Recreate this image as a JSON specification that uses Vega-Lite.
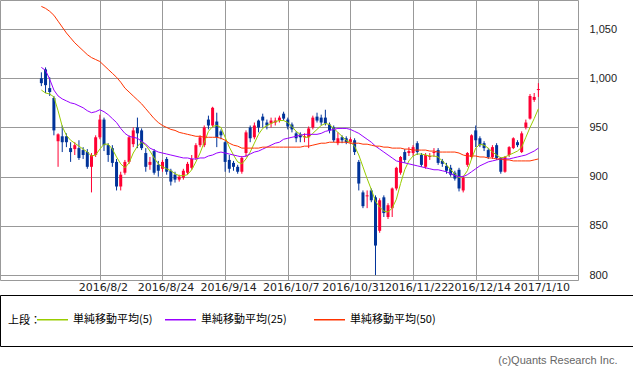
{
"$schema":"https://vega.github.io/schema/vega-lite/v6.json",
"width":578,"height":280,
"autosize":{"type":"none"},
"padding":{"left":0,"top":0,"right":55,"bottom":91},
"background":"white",
"title":{"text":"(c)Quants Research Inc.","orient":"bottom","anchor":"end","frame":"bounds","font":"Liberation Sans","fontSize":11,"fontWeight":"normal","color":"#666666","offset":8,"dx":-17},
"data":{"values":[
{"i":0,"date":"2016/7/12","open":1000,"high":1006,"low":992,"close":995,"ma5":988,"ma25":1011,"ma50":1073},
{"i":1,"date":"2016/7/13","open":1009,"high":1011,"low":985,"close":993,"ma5":985,"ma25":1008,"ma50":1071},
{"i":2,"date":"2016/7/14","open":990,"high":1001,"low":982,"close":986,"ma5":984,"ma25":999,"ma50":1068},
{"i":3,"date":"2016/7/15","open":980,"high":982,"low":942,"close":947,"ma5":981,"ma25":988,"ma50":1064},
{"i":4,"date":"2016/7/19","open":936,"high":944,"low":910,"close":943,"ma5":967,"ma25":982,"ma50":1058},
{"i":5,"date":"2016/7/20","open":941,"high":952,"low":925,"close":935,"ma5":951,"ma25":979,"ma50":1052},
{"i":6,"date":"2016/7/21","open":941,"high":944,"low":930,"close":935,"ma5":942,"ma25":977,"ma50":1046},
{"i":7,"date":"2016/7/22","open":929,"high":935,"low":915,"close":925,"ma5":937,"ma25":975,"ma50":1041},
{"i":8,"date":"2016/7/25","open":928,"high":935,"low":922,"close":932,"ma5":934,"ma25":974,"ma50":1036},
{"i":9,"date":"2016/7/26","open":929,"high":937,"low":917,"close":919,"ma5":931,"ma25":972,"ma50":1032},
{"i":10,"date":"2016/7/27","open":927,"high":930,"low":918,"close":922,"ma5":928,"ma25":970,"ma50":1028},
{"i":11,"date":"2016/7/28","open":925,"high":928,"low":908,"close":910,"ma5":925,"ma25":967,"ma50":1024},
{"i":12,"date":"2016/7/29","open":910,"high":924,"low":884,"close":922,"ma5":921,"ma25":965,"ma50":1021},
{"i":13,"date":"2016/8/1","open":922,"high":942,"low":920,"close":940,"ma5":922,"ma25":966,"ma50":1019},
{"i":14,"date":"2016/8/2","open":940,"high":963,"low":938,"close":958,"ma5":928,"ma25":968,"ma50":1017},
{"i":15,"date":"2016/8/3","open":958,"high":960,"low":926,"close":932,"ma5":933,"ma25":966,"ma50":1013},
{"i":16,"date":"2016/8/4","open":932,"high":934,"low":915,"close":922,"ma5":933,"ma25":963,"ma50":1009},
{"i":17,"date":"2016/8/5","open":929,"high":932,"low":910,"close":914,"ma5":928,"ma25":959,"ma50":1005},
{"i":18,"date":"2016/8/8","open":915,"high":918,"low":886,"close":890,"ma5":920,"ma25":955,"ma50":1001},
{"i":19,"date":"2016/8/9","open":890,"high":905,"low":886,"close":902,"ma5":913,"ma25":949,"ma50":996},
{"i":20,"date":"2016/8/10","open":904,"high":917,"low":902,"close":915,"ma5":909,"ma25":944,"ma50":990},
{"i":21,"date":"2016/8/12","open":915,"high":942,"low":913,"close":940,"ma5":914,"ma25":941,"ma50":986},
{"i":22,"date":"2016/8/15","open":933,"high":950,"low":930,"close":947,"ma5":924,"ma25":940,"ma50":982},
{"i":23,"date":"2016/8/16","open":950,"high":960,"low":929,"close":944,"ma5":931,"ma25":939,"ma50":978},
{"i":24,"date":"2016/8/17","open":947,"high":949,"low":927,"close":929,"ma5":935,"ma25":936,"ma50":974},
{"i":25,"date":"2016/8/18","open":924,"high":929,"low":905,"close":910,"ma5":932,"ma25":933,"ma50":969},
{"i":26,"date":"2016/8/19","open":912,"high":920,"low":907,"close":915,"ma5":926,"ma25":929,"ma50":964},
{"i":27,"date":"2016/8/22","open":926,"high":928,"low":902,"close":904,"ma5":919,"ma25":927,"ma50":959},
{"i":28,"date":"2016/8/23","open":912,"high":916,"low":900,"close":906,"ma5":913,"ma25":925,"ma50":955},
{"i":29,"date":"2016/8/24","open":908,"high":917,"low":905,"close":915,"ma5":910,"ma25":924,"ma50":952},
{"i":30,"date":"2016/8/25","open":918,"high":920,"low":902,"close":905,"ma5":908,"ma25":923,"ma50":950},
{"i":31,"date":"2016/8/26","open":906,"high":908,"low":891,"close":895,"ma5":906,"ma25":922,"ma50":948},
{"i":32,"date":"2016/8/29","open":902,"high":905,"low":894,"close":897,"ma5":903,"ma25":921,"ma50":947},
{"i":33,"date":"2016/8/30","open":897,"high":902,"low":895,"close":900,"ma5":901,"ma25":920,"ma50":945},
{"i":34,"date":"2016/8/31","open":899,"high":908,"low":897,"close":906,"ma5":901,"ma25":919,"ma50":944},
{"i":35,"date":"2016/9/1","open":904,"high":915,"low":902,"close":913,"ma5":902,"ma25":919,"ma50":943},
{"i":36,"date":"2016/9/2","open":909,"high":922,"low":907,"close":918,"ma5":907,"ma25":918,"ma50":942},
{"i":37,"date":"2016/9/5","open":919,"high":934,"low":917,"close":932,"ma5":915,"ma25":918,"ma50":941},
{"i":38,"date":"2016/9/6","open":932,"high":942,"low":930,"close":940,"ma5":924,"ma25":919,"ma50":941},
{"i":39,"date":"2016/9/7","open":932,"high":952,"low":930,"close":950,"ma5":935,"ma25":919,"ma50":940},
{"i":40,"date":"2016/9/8","open":958,"high":962,"low":948,"close":952,"ma5":946,"ma25":921,"ma50":940},
{"i":41,"date":"2016/9/9","open":952,"high":971,"low":950,"close":970,"ma5":951,"ma25":922,"ma50":940},
{"i":42,"date":"2016/9/12","open":956,"high":965,"low":930,"close":940,"ma5":952,"ma25":924,"ma50":940},
{"i":43,"date":"2016/9/13","open":946,"high":948,"low":938,"close":942,"ma5":950,"ma25":925,"ma50":939},
{"i":44,"date":"2016/9/14","open":935,"high":936,"low":905,"close":915,"ma5":940,"ma25":924,"ma50":937},
{"i":45,"date":"2016/9/15","open":917,"high":922,"low":904,"close":908,"ma5":930,"ma25":923,"ma50":934},
{"i":46,"date":"2016/9/16","open":914,"high":916,"low":906,"close":910,"ma5":922,"ma25":922,"ma50":932},
{"i":47,"date":"2016/9/20","open":910,"high":912,"low":903,"close":905,"ma5":915,"ma25":921,"ma50":931},
{"i":48,"date":"2016/9/21","open":905,"high":921,"low":903,"close":919,"ma5":913,"ma25":920,"ma50":929},
{"i":49,"date":"2016/9/23","open":924,"high":947,"low":920,"close":945,"ma5":918,"ma25":921,"ma50":929},
{"i":50,"date":"2016/9/26","open":950,"high":952,"low":935,"close":939,"ma5":925,"ma25":923,"ma50":929},
{"i":51,"date":"2016/9/27","open":940,"high":955,"low":938,"close":952,"ma5":934,"ma25":925,"ma50":929},
{"i":52,"date":"2016/9/28","open":957,"high":958,"low":945,"close":950,"ma5":943,"ma25":926,"ma50":929},
{"i":53,"date":"2016/9/29","open":961,"high":964,"low":950,"close":957,"ma5":949,"ma25":928,"ma50":930},
{"i":54,"date":"2016/9/30","open":955,"high":958,"low":948,"close":952,"ma5":952,"ma25":930,"ma50":930},
{"i":55,"date":"2016/10/3","open":954,"high":960,"low":950,"close":957,"ma5":954,"ma25":932,"ma50":930},
{"i":56,"date":"2016/10/4","open":955,"high":960,"low":952,"close":957,"ma5":956,"ma25":934,"ma50":930},
{"i":57,"date":"2016/10/5","open":957,"high":962,"low":955,"close":960,"ma5":957,"ma25":935,"ma50":930},
{"i":58,"date":"2016/10/6","open":964,"high":966,"low":957,"close":959,"ma5":957,"ma25":938,"ma50":930},
{"i":59,"date":"2016/10/7","open":958,"high":960,"low":948,"close":951,"ma5":955,"ma25":939,"ma50":930},
{"i":60,"date":"2016/10/11","open":953,"high":955,"low":945,"close":948,"ma5":951,"ma25":940,"ma50":930},
{"i":61,"date":"2016/10/12","open":944,"high":946,"low":935,"close":939,"ma5":946,"ma25":941,"ma50":930},
{"i":62,"date":"2016/10/13","open":943,"high":945,"low":935,"close":940,"ma5":943,"ma25":942,"ma50":930},
{"i":63,"date":"2016/10/14","open":940,"high":944,"low":935,"close":941,"ma5":940,"ma25":943,"ma50":931},
{"i":64,"date":"2016/10/17","open":940,"high":951,"low":929,"close":949,"ma5":940,"ma25":943,"ma50":931},
{"i":65,"date":"2016/10/18","open":950,"high":962,"low":948,"close":960,"ma5":944,"ma25":943,"ma50":932},
{"i":66,"date":"2016/10/19","open":961,"high":965,"low":955,"close":957,"ma5":948,"ma25":943,"ma50":933},
{"i":67,"date":"2016/10/20","open":960,"high":963,"low":952,"close":955,"ma5":952,"ma25":944,"ma50":934},
{"i":68,"date":"2016/10/21","open":960,"high":968,"low":952,"close":954,"ma5":954,"ma25":946,"ma50":934},
{"i":69,"date":"2016/10/24","open":953,"high":955,"low":944,"close":947,"ma5":953,"ma25":947,"ma50":935},
{"i":70,"date":"2016/10/25","open":950,"high":952,"low":935,"close":937,"ma5":949,"ma25":948,"ma50":935},
{"i":71,"date":"2016/10/26","open":934,"high":945,"low":932,"close":939,"ma5":945,"ma25":949,"ma50":935},
{"i":72,"date":"2016/10/27","open":940,"high":942,"low":934,"close":937,"ma5":941,"ma25":949,"ma50":935},
{"i":73,"date":"2016/10/28","open":939,"high":941,"low":933,"close":935,"ma5":937,"ma25":949,"ma50":935},
{"i":74,"date":"2016/10/31","open":935,"high":940,"low":933,"close":938,"ma5":935,"ma25":948,"ma50":934},
{"i":75,"date":"2016/11/1","open":937,"high":939,"low":922,"close":925,"ma5":931,"ma25":946,"ma50":934},
{"i":76,"date":"2016/11/2","open":915,"high":917,"low":886,"close":893,"ma5":922,"ma25":944,"ma50":934},
{"i":77,"date":"2016/11/4","open":884,"high":886,"low":868,"close":870,"ma5":910,"ma25":941,"ma50":933},
{"i":78,"date":"2016/11/7","open":880,"high":886,"low":868,"close":881,"ma5":898,"ma25":938,"ma50":933},
{"i":79,"date":"2016/11/8","open":886,"high":888,"low":874,"close":876,"ma5":887,"ma25":935,"ma50":932},
{"i":80,"date":"2016/11/9","open":879,"high":881,"low":800,"close":830,"ma5":875,"ma25":931,"ma50":931},
{"i":81,"date":"2016/11/10","open":845,"high":878,"low":843,"close":876,"ma5":869,"ma25":928,"ma50":931},
{"i":82,"date":"2016/11/11","open":879,"high":881,"low":859,"close":863,"ma5":865,"ma25":925,"ma50":930},
{"i":83,"date":"2016/11/14","open":859,"high":873,"low":857,"close":871,"ma5":864,"ma25":922,"ma50":930},
{"i":84,"date":"2016/11/15","open":868,"high":889,"low":859,"close":888,"ma5":868,"ma25":919,"ma50":929},
{"i":85,"date":"2016/11/16","open":888,"high":910,"low":886,"close":909,"ma5":877,"ma25":916,"ma50":929},
{"i":86,"date":"2016/11/17","open":904,"high":921,"low":902,"close":920,"ma5":893,"ma25":915,"ma50":929},
{"i":87,"date":"2016/11/18","open":925,"high":928,"low":914,"close":917,"ma5":907,"ma25":914,"ma50":928},
{"i":88,"date":"2016/11/21","open":924,"high":930,"low":921,"close":926,"ma5":916,"ma25":913,"ma50":928},
{"i":89,"date":"2016/11/22","open":924,"high":932,"low":921,"close":930,"ma5":921,"ma25":912,"ma50":927},
{"i":90,"date":"2016/11/24","open":934,"high":936,"low":922,"close":925,"ma5":923,"ma25":911,"ma50":927},
{"i":91,"date":"2016/11/25","open":922,"high":924,"low":910,"close":912,"ma5":923,"ma25":910,"ma50":927},
{"i":92,"date":"2016/11/28","open":910,"high":924,"low":908,"close":922,"ma5":922,"ma25":909,"ma50":927},
{"i":93,"date":"2016/11/29","open":920,"high":924,"low":917,"close":921,"ma5":921,"ma25":908,"ma50":926},
{"i":94,"date":"2016/11/30","open":924,"high":929,"low":920,"close":925,"ma5":921,"ma25":907,"ma50":926},
{"i":95,"date":"2016/12/1","open":927,"high":929,"low":912,"close":914,"ma5":920,"ma25":907,"ma50":925},
{"i":96,"date":"2016/12/2","open":916,"high":918,"low":910,"close":913,"ma5":916,"ma25":906,"ma50":925},
{"i":97,"date":"2016/12/5","open":911,"high":914,"low":903,"close":906,"ma5":912,"ma25":905,"ma50":925},
{"i":98,"date":"2016/12/6","open":909,"high":912,"low":900,"close":902,"ma5":907,"ma25":903,"ma50":925},
{"i":99,"date":"2016/12/7","open":904,"high":906,"low":896,"close":898,"ma5":903,"ma25":901,"ma50":925},
{"i":100,"date":"2016/12/8","open":907,"high":909,"low":885,"close":888,"ma5":899,"ma25":900,"ma50":924},
{"i":101,"date":"2016/12/9","open":886,"high":901,"low":884,"close":899,"ma5":900,"ma25":900,"ma50":922},
{"i":102,"date":"2016/12/12","open":912,"high":925,"low":910,"close":924,"ma5":906,"ma25":902,"ma50":921},
{"i":103,"date":"2016/12/13","open":920,"high":943,"low":918,"close":942,"ma5":918,"ma25":905,"ma50":921},
{"i":104,"date":"2016/12/14","open":947,"high":952,"low":930,"close":937,"ma5":929,"ma25":908,"ma50":921},
{"i":105,"date":"2016/12/15","open":939,"high":941,"low":930,"close":932,"ma5":933,"ma25":911,"ma50":920},
{"i":106,"date":"2016/12/16","open":934,"high":936,"low":926,"close":929,"ma5":932,"ma25":913,"ma50":920},
{"i":107,"date":"2016/12/19","open":927,"high":929,"low":918,"close":920,"ma5":929,"ma25":915,"ma50":919},
{"i":108,"date":"2016/12/20","open":920,"high":932,"low":918,"close":930,"ma5":925,"ma25":916,"ma50":919},
{"i":109,"date":"2016/12/21","open":932,"high":934,"low":917,"close":919,"ma5":922,"ma25":917,"ma50":918},
{"i":110,"date":"2016/12/22","open":919,"high":920,"low":903,"close":905,"ma5":919,"ma25":918,"ma50":918},
{"i":111,"date":"2016/12/26","open":905,"high":921,"low":904,"close":920,"ma5":920,"ma25":918,"ma50":917},
{"i":112,"date":"2016/12/27","open":922,"high":931,"low":920,"close":930,"ma5":922,"ma25":918,"ma50":917},
{"i":113,"date":"2016/12/28","open":929,"high":940,"low":928,"close":939,"ma5":924,"ma25":919,"ma50":916},
{"i":114,"date":"2016/12/29","open":935,"high":937,"low":930,"close":932,"ma5":926,"ma25":920,"ma50":916},
{"i":115,"date":"2016/12/30","open":925,"high":946,"low":924,"close":944,"ma5":930,"ma25":921,"ma50":916},
{"i":116,"date":"2017/1/4","open":950,"high":958,"low":948,"close":955,"ma5":940,"ma25":922,"ma50":916},
{"i":117,"date":"2017/1/5","open":959,"high":984,"low":958,"close":982,"ma5":950,"ma25":924,"ma50":916},
{"i":118,"date":"2017/1/6","open":978,"high":985,"low":976,"close":981,"ma5":959,"ma25":926,"ma50":917},
{"i":119,"date":"2017/1/10","open":988,"high":995,"low":981,"close":989,"ma5":969,"ma25":929,"ma50":918}
]},
"encoding":{
"x":{"field":"i","type":"quantitative","title":null,
"scale":{"domain":[-8.706,127.29],"nice":false,"zero":false},
"axis":{"values":[14,29,44,59,74,89,104,119],"labelExpr":"{'14':'2016/8/2','29':'2016/8/24','44':'2016/9/14','59':'2016/10/7','74':'2016/10/31','89':'2016/11/22','104':'2016/12/14','119':'2017/1/10'}[datum.value]","domain":false,"ticks":false,"grid":true,"gridColor":"#999999","gridOpacity":1,"gridWidth":1,"labelAngle":0,"labelFont":"DejaVu Sans","labelFontSize":11,"labelColor":"#222222","labelPadding":1,"labelOffset":3,"labelOverlap":false,"labelBaseline":"top","labelFlush":false}}
},
"layer":[
{"mark":{"type":"rule","strokeWidth":1},
"encoding":{
"y":{"field":"low","type":"quantitative","title":null,"scale":{"domain":[795,1079.5],"nice":false,"zero":false},
"axis":{"orient":"right","values":[800,850,900,950,1000,1050],"format":",d","domain":false,"ticks":false,"grid":true,"gridColor":"#999999","gridOpacity":1,"gridWidth":1,"labelFont":"Liberation Sans","labelFontSize":11,"labelColor":"#222222","labelPadding":11}},
"y2":{"field":"high"},
"color":{"condition":{"test":"datum.close >= datum.open","value":"#ff0033"},"value":"#003399"}}},
{"mark":{"type":"bar","size":3},
"encoding":{
"y":{"field":"open","type":"quantitative","title":null,"scale":{"domain":[795,1079.5],"nice":false,"zero":false}},
"y2":{"field":"close"},
"color":{"condition":{"test":"datum.close >= datum.open","value":"#ff0033"},"value":"#003399"}}},
{"transform":[{"fold":["ma5","ma25","ma50"],"as":["series","value"]}],
"mark":{"type":"line","strokeWidth":1,"interpolate":"linear"},
"encoding":{
"y":{"field":"value","type":"quantitative","title":null,"scale":{"domain":[795,1079.5],"nice":false,"zero":false}},
"color":{"field":"series","type":"nominal","sort":["ma5","ma25","ma50"],
"scale":{"domain":["ma5","ma25","ma50"],"range":["#99cc00","#9900ff","#ff3300"]},
"legend":{"orient":"none","legendX":0,"legendY":295,"direction":"horizontal","title":["","上段：",""],"titleLineHeight":12,"titleOrient":"left","titleAnchor":"start","titleBaseline":"top","titleFont":"Noto Sans CJK JP","titleFontSize":11,"titleFontWeight":"normal","titleColor":"#000000","titlePadding":-5,
"symbolType":"stroke","symbolSize":961,"symbolStrokeWidth":1.5,"labelFont":"Noto Sans CJK JP","labelFontSize":11,"labelColor":"#000000","labelOffset":4,"labelLimit":0,"columnPadding":9,"padding":8,"strokeColor":"#000000","fillColor":"#ffffff",
"labelExpr":"datum.value === 'ma5' ? '単純移動平均(5)' : datum.value === 'ma25' ? pad('単純移動平均(25)', 16, '\u00a0') + '\u200b' : pad('単純移動平均(50)', 87, '\u00a0') + '\u200b'"}}}}
],
"config":{"view":{"stroke":"#999999","strokeWidth":1}}
}
